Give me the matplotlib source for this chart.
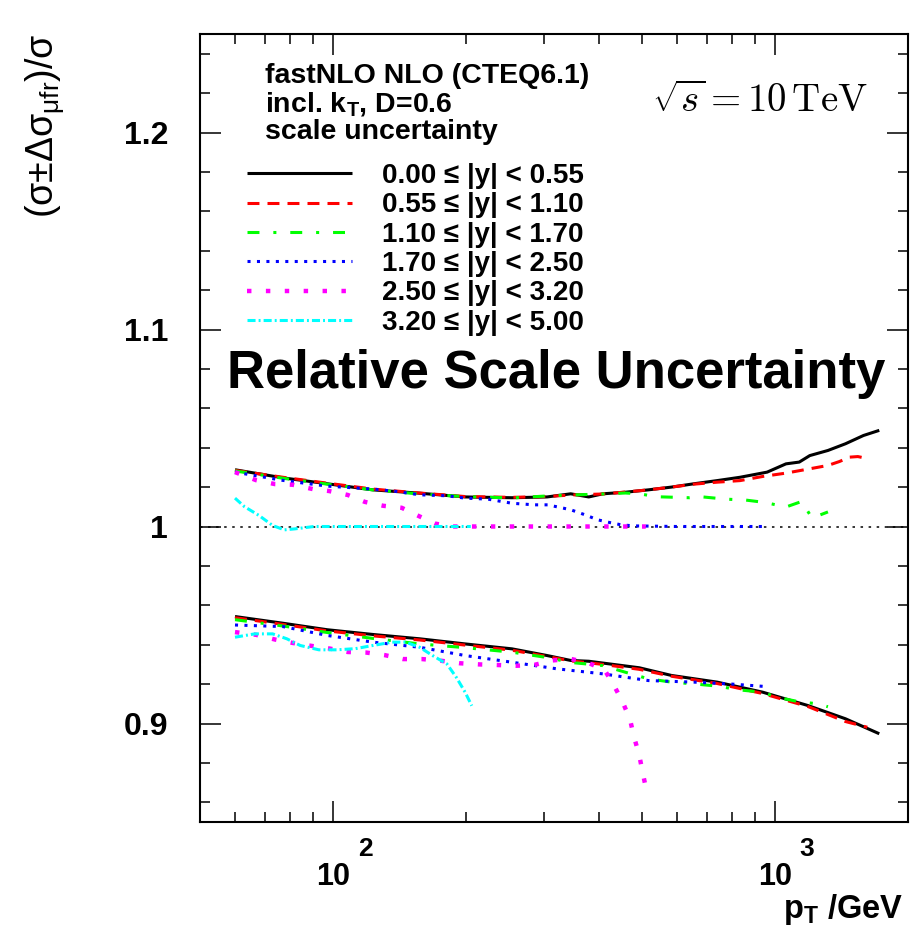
import matplotlib
matplotlib.use("Agg")
import matplotlib.pyplot as plt
from matplotlib.lines import Line2D
import matplotlib.transforms as mtransforms

plt.rcParams['font.family'] = ['Liberation Sans', 'DejaVu Sans']
plt.rcParams['mathtext.fontset'] = 'custom'
plt.rcParams['mathtext.rm'] = 'Liberation Sans'
plt.rcParams['mathtext.bf'] = 'Liberation Sans:bold'
plt.rcParams['mathtext.it'] = 'Liberation Sans:italic'
plt.rcParams['mathtext.sf'] = 'Liberation Sans'
plt.rcParams['lines.scale_dashes'] = False

# ---------------- data ----------------
labels = [r"0.00 ≤ |y| < 0.55", r"0.55 ≤ |y| < 1.10", r"1.10 ≤ |y| < 1.70",
          r"1.70 ≤ |y| < 2.50", r"2.50 ≤ |y| < 3.20", r"3.20 ≤ |y| < 5.00"]

# |y| < 0.55
pt_y0_up = [60, 77, 97, 123, 157, 199, 254, 305, 345, 379, 408, 459, 517, 583, 656, 740, 834, 960, 1059, 1135, 1199, 1318, 1444, 1586, 1722]
up_y0 = [1.0288, 1.0247, 1.0217, 1.0186, 1.0169, 1.0150, 1.0146, 1.0150, 1.0166, 1.0150, 1.0166, 1.0174, 1.0186, 1.0200, 1.0217, 1.0233, 1.0250, 1.0276, 1.0318, 1.0327, 1.0360, 1.0386, 1.0420, 1.0462, 1.0488]
pt_y0_dn = [60, 77, 97, 123, 157, 199, 254, 305, 345, 379, 493, 583, 740, 938, 1188, 1444, 1722]
dn_y0 = [0.9543, 0.9509, 0.9476, 0.9452, 0.9430, 0.9404, 0.9379, 0.9345, 0.9320, 0.9316, 0.9283, 0.9244, 0.9210, 0.9159, 0.9091, 0.9024, 0.8948]

# 0.55 <= |y| < 1.10
pt_y1_up = [60, 77, 97, 123, 157, 199, 254, 305, 345, 408, 459, 517, 583, 656, 740, 834, 938, 1059, 1199, 1318, 1400, 1474, 1540, 1618]
up_y1 = [1.0285, 1.0250, 1.0220, 1.0190, 1.0170, 1.0152, 1.0148, 1.0152, 1.0160, 1.0165, 1.0175, 1.0186, 1.0200, 1.0215, 1.0225, 1.0233, 1.0254, 1.0271, 1.0293, 1.0310, 1.0330, 1.0352, 1.0355, 1.0345]
pt_y1_dn = [60, 77, 97, 123, 157, 199, 254, 305, 345, 408, 493, 583, 740, 938, 1188, 1444, 1618]
dn_y1 = [0.9537, 0.9503, 0.9470, 0.9445, 0.9424, 0.9398, 0.9372, 0.9340, 0.9318, 0.9300, 0.9275, 0.9240, 0.9203, 0.9152, 0.9086, 0.9010, 0.8981]

# 1.10 <= |y| < 1.70
pt_y2_up = [60, 77, 97, 123, 157, 199, 254, 305, 345, 408, 459, 493, 541, 641, 680, 773, 860, 949, 1059, 1149, 1213, 1318]
up_y2 = [1.0282, 1.0245, 1.0215, 1.0186, 1.0165, 1.0152, 1.0145, 1.0155, 1.0160, 1.0165, 1.0170, 1.0166, 1.0151, 1.0146, 1.0151, 1.0139, 1.0134, 1.0122, 1.0099, 1.0127, 1.0043, 1.0074]
pt_y2_dn = [60, 77, 97, 123, 157, 199, 254, 305, 345, 408, 459, 517, 583, 656, 740, 834, 938, 1008, 1135, 1250, 1318]
dn_y2 = [0.9527, 0.9495, 0.9462, 0.9432, 0.9404, 0.9385, 0.9362, 0.9335, 0.9310, 0.9294, 0.9260, 0.9227, 0.9210, 0.9201, 0.9190, 0.9170, 0.9159, 0.9134, 0.9110, 0.9100, 0.9085]

# 1.70 <= |y| < 2.50
pt_y3_up = [60, 77, 97, 123, 139, 157, 181, 199, 224, 254, 285, 306, 345, 371, 397, 423, 450, 482, 600, 750, 948]
up_y3 = [1.0276, 1.0234, 1.0205, 1.0190, 1.0178, 1.0161, 1.0156, 1.0144, 1.0139, 1.0118, 1.0110, 1.0110, 1.0085, 1.0060, 1.0034, 1.0020, 1.0008, 1.0003, 1.0000, 1.0000, 1.0000]
pt_y3_dn = [60, 77, 97, 123, 157, 199, 254, 320, 408, 517, 656, 800, 948]
dn_y3 = [0.9500, 0.9492, 0.9447, 0.9413, 0.9387, 0.9345, 0.9311, 0.9278, 0.9252, 0.9218, 0.9210, 0.9200, 0.9188]

# 2.50 <= |y| < 3.20
pt_y4_up = [60, 67, 74, 81, 90, 98, 108, 118, 130, 143, 156, 170, 185, 220, 300, 400, 510]
up_y4 = [1.0276, 1.0235, 1.0215, 1.0212, 1.0190, 1.0180, 1.0160, 1.0125, 1.0105, 1.0095, 1.0054, 1.0015, 1.0000, 1.0000, 1.0000, 1.0000, 1.0000]
pt_y4_dn = [60, 67, 74, 81, 90, 98.5, 108, 119, 131, 144, 159, 175, 193, 214, 235, 259, 285, 313, 345, 379, 412, 432, 452, 470, 480, 493, 502, 512]
dn_y4 = [0.9464, 0.9450, 0.9426, 0.9409, 0.9393, 0.9380, 0.9363, 0.9360, 0.9347, 0.9327, 0.9327, 0.9319, 0.9306, 0.9300, 0.9297, 0.9293, 0.9297, 0.9320, 0.9328, 0.9307, 0.9270, 0.9194, 0.9110, 0.9020, 0.8930, 0.8840, 0.8750, 0.8660]

# 3.20 <= |y| < 5.00
pt_y5_up = [60, 63, 68, 73, 77.6, 82, 90.6, 110, 140, 170, 205]
up_y5 = [1.0144, 1.0101, 1.0056, 1.0005, 0.9983, 0.9988, 1.0000, 1.0000, 1.0000, 1.0000, 1.0000]
pt_y5_dn = [60, 66.5, 73, 78.6, 84.3, 92.9, 102, 112.4, 123, 136, 146, 157, 168, 181, 190, 199, 206]
dn_y5 = [0.9438, 0.9455, 0.9455, 0.9430, 0.9396, 0.9374, 0.9374, 0.9380, 0.9396, 0.9413, 0.9413, 0.9387, 0.9345, 0.9302, 0.9235, 0.9159, 0.9090]

series = [
    (pt_y0_up, up_y0, pt_y0_dn, dn_y0),
    (pt_y1_up, up_y1, pt_y1_dn, dn_y1),
    (pt_y2_up, up_y2, pt_y2_dn, dn_y2),
    (pt_y3_up, up_y3, pt_y3_dn, dn_y3),
    (pt_y4_up, up_y4, pt_y4_dn, dn_y4),
    (pt_y5_up, up_y5, pt_y5_dn, dn_y5),
]

yticks = [0.9, 1.0, 1.1, 1.2]
ytick_labels = ["0.9", "1", "1.1", "1.2"]
xticks = [100, 1000]
xtick_labels = ["10", "10"]
xtick_exps = ["2", "3"]

# ---------------- styles ----------------
styles = [
    dict(color='black', lw=2.2, ls='-'),
    dict(color='#ff0000', lw=2.2, ls=(0, (8.6, 5.8))),
    dict(color='#00ff00', lw=2.2, ls=(0, (8.6, 10, 2.2, 10))),
    dict(color='#0000ff', lw=2.2, ls=(0, (2.2, 4.6))),
    dict(color='#ff00ff', lw=3.2, ls=(0, (3.2, 10.4))),
    dict(color='#00ffff', lw=2.2, ls=(0, (5.8, 2.2, 1.4, 2.2))),
]

W, H = 911, 935
fig = plt.figure(figsize=(W / 100, H / 100), dpi=100)
L, R, T, B = 200, 908, 34, 822
ax = fig.add_axes([L / W, 1 - B / H, (R - L) / W, (B - T) / H])

ax.set_xscale('log')
ax.set_xlim(50, 2000)
ax.set_ylim(0.85, 1.25)

ax.axhline(1.0, color='black', lw=1.1, ls=(0, (1.8, 4.0)), zorder=1)

handles = []
for (px_u, vu, px_d, vd), st, lab in zip(series, styles, labels):
    kw = dict(color=st['color'], lw=st['lw'], linestyle=st['ls'], solid_capstyle='butt',
              dash_capstyle='butt', zorder=2)
    ax.plot(px_u, vu, **kw)
    ax.plot(px_d, vd, **kw)
    handles.append(Line2D([], [], label=lab, **kw))

# ticks
ax.set_xticks(xticks)
ax.set_xticklabels(xtick_labels)
ax.set_xticks([60, 70, 80, 90, 200, 300, 400, 500, 600, 700, 800, 900], minor=True)
ax.xaxis.set_minor_formatter(matplotlib.ticker.NullFormatter())
ax.set_yticks(yticks)
ax.set_yticklabels(ytick_labels)
ax.set_yticks([0.86, 0.88, 0.92, 0.94, 0.96, 0.98, 1.02, 1.04, 1.06, 1.08,
               1.12, 1.14, 1.16, 1.18, 1.22, 1.24], minor=True)
ax.tick_params(which='both', direction='in', top=True, right=True, width=1.1, color='black')
ax.tick_params(which='major', length=15)
ax.tick_params(which='minor', length=7)
ax.tick_params(axis='y', which='major', pad=23, labelsize=23)
ax.tick_params(axis='x', which='major', pad=29, labelsize=22)
for lab in ax.get_xticklabels() + ax.get_yticklabels():
    lab.set_fontweight('bold')
for sp in ax.spines.values():
    sp.set_linewidth(1.5)

# exponents on x tick labels
for xt, ex in zip(xticks, xtick_exps):
    off = mtransforms.offset_copy(ax.transData, fig=fig, x=32 * 0.72, y=0, units='points')
    trans = mtransforms.blended_transform_factory(off, fig.transFigure)
    ax.text(xt, 1 - 849 / H, ex, transform=trans, ha='center', va='center',
            fontsize=19, fontweight='bold')

# axis labels
fig.text(903 / W, 1 - 918 / H, r'p$_{\mathbf{T}}$ /GeV', ha='right', va='baseline',
         fontsize=23.5, fontweight='bold')
fig.text(45 / W, 1 - 33 / H, r'(σ±Δσ$_{\mathregular{μfr}}$)/σ', rotation=90,
         ha='center', va='top', fontsize=27)

# annotations
fig.text(265 / W, 1 - 83 / H, 'fastNLO NLO (CTEQ6.1)', fontsize=20.5, fontweight='bold',
         va='baseline', ha='left')
fig.text(265 / W, 1 - 111 / H, r'incl. k$_{\mathbf{T}}$, D=0.6', fontsize=20.5,
         fontweight='bold', va='baseline', ha='left')
fig.text(265 / W, 1 - 139 / H, 'scale uncertainty', fontsize=20.5, fontweight='bold',
         va='baseline', ha='left')
fig.text(868 / W, 1 - 112 / H, r'$\sqrt{s} = 10\,\mathrm{TeV}$', fontsize=28,
         ha='right', va='baseline', math_fontfamily='cm')

leg = ax.legend(handles=handles, loc='upper left',
                bbox_to_anchor=((247 - L) / (R - L), (B - 163) / (B - T)),
                frameon=False, borderpad=0, borderaxespad=0, handlelength=3.78,
                handletextpad=1.08, labelspacing=0.12,
                prop=dict(size=20, weight='bold'))

fig.text(556 / W, 1 - 388 / H, 'Relative Scale Uncertainty', fontsize=38,
         fontweight='bold', ha='center', va='baseline')

fig.savefig('out.png', dpi=100, facecolor='white')
